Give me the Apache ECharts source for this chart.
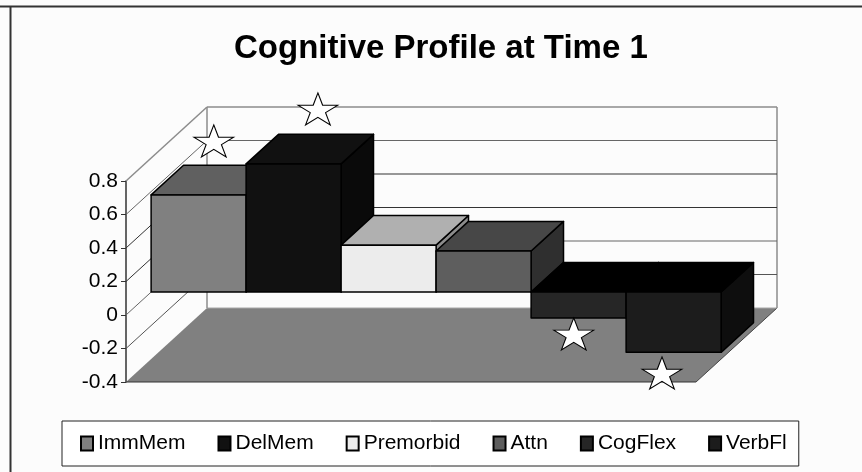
<!DOCTYPE html>
<html>
<head>
<meta charset="utf-8">
<style>
  html, body { margin: 0; padding: 0; background: #fcfcfc; }
  #chart { width: 862px; height: 472px; }
</style>
<script src="https://cdn.jsdelivr.net/npm/echarts@6/dist/echarts.min.js"></script>
</head>
<body>
<div id="chart"></div>
<script>
const seriesNames = ['ImmMem', 'DelMem', 'Premorbid', 'Attn', 'CogFlex', 'VerbFl'];
const seriesValues = [0.58, 0.765, 0.28, 0.245, -0.155, -0.36];
const yTicks = [0.8, 0.6, 0.4, 0.2, 0, -0.2];
const starX = [0.924, 2.02, 4.713, 5.642];
const starY = [1.039, 1.23, -0.113, -0.346];

const frontColors = ['#808080', '#111111', '#ececec', '#5e5e5e', '#262626', '#1c1c1c'];
const topColors = ['#606060', '#111111', '#b0b0b0', '#474747', '#000000', '#000000'];
const sideColors = ['#505050', '#0a0a0a', '#8c8c8c', '#2f2f2f', '#151515', '#0e0e0e'];
const gridColors = ['#8c8c8c', '#666666', '#333333', '#333333', '#666666', '#555555'];

// the oblique 3D box: how far the back of the floor sits from the front plane
const depthX = 81;
const depthY = -74;
const barFront = 0.31;
const barBack = 0.71;
const xMax = seriesNames.length;
const yMin = -0.4;
const yMax = 0.8;

const starPath = 'path://M50 0 L61.8 38.2 L100 38.2 L69.1 61.8 L80.9 100 L50 76.4 L19.1 100 L30.9 61.8 L0 38.2 L38.2 38.2 Z';

function shift(p, f) {
  return [p[0] + depthX * f, p[1] + depthY * f];
}

function lineShape(p, q) {
  return { x1: p[0], y1: p[1], x2: q[0], y2: q[1] };
}

function renderFloor(params, api) {
  const a = api.coord([0, yMin]);
  const b = api.coord([xMax, yMin]);
  const top = api.coord([xMax, yMax]);
  const leftTop = api.coord([0, yMax]);
  return {
    type: 'group',
    children: [
      {
        type: 'polygon',
        shape: { points: [a, b, shift(b, 1), shift(a, 1)] },
        style: { fill: '#808080', stroke: 'none' }
      },
      { type: 'line', shape: lineShape(a, b), style: { stroke: '#333333', lineWidth: 1 } },
      { type: 'line', shape: lineShape(b, shift(b, 1)), style: { stroke: '#444444', lineWidth: 1 } },
      { type: 'line', shape: lineShape(shift(a, 1), shift(b, 1)), style: { stroke: '#a8a8a8', lineWidth: 1 } },
      { type: 'line', shape: lineShape(shift(a, 1), shift(leftTop, 1)), style: { stroke: '#8c8c8c', lineWidth: 1.5 } },
      { type: 'line', shape: lineShape(shift(b, 1), shift(top, 1)), style: { stroke: '#8c8c8c', lineWidth: 1.5 } }
    ]
  };
}

function renderWallLine(params, api) {
  const v = api.value(1);
  const a = api.coord([0, v]);
  const b = api.coord([xMax, v]);
  const color = gridColors[params.dataIndex];
  const style = { stroke: color, lineWidth: v === yMax ? 1.5 : 1 };
  return {
    type: 'group',
    children: [
      { type: 'line', shape: lineShape(a, shift(a, 1)), style },
      { type: 'line', shape: lineShape(shift(a, 1), shift(b, 1)), style }
    ]
  };
}

function renderBar(params, api) {
  const i = api.value(0);
  const v = api.value(1);
  const s = params.seriesIndex - 2;
  const high = Math.max(v, 0);
  const low = Math.min(v, 0);
  const tl = shift(api.coord([i, high]), barFront);
  const tr = shift(api.coord([i + 1, high]), barFront);
  const br = shift(api.coord([i + 1, low]), barFront);
  const bl = shift(api.coord([i, low]), barFront);
  const d = barBack - barFront;
  const edge = { stroke: '#000000', lineWidth: 1.5, lineJoin: 'round' };
  return {
    type: 'group',
    children: [
      {
        type: 'polygon',
        shape: { points: [tr, br, shift(br, d), shift(tr, d)] },
        style: Object.assign({ fill: sideColors[s] }, edge)
      },
      {
        type: 'polygon',
        shape: { points: [tl, tr, shift(tr, d), shift(tl, d)] },
        style: Object.assign({ fill: topColors[s] }, edge)
      },
      {
        type: 'polygon',
        shape: { points: [tl, tr, br, bl] },
        style: Object.assign({ fill: frontColors[s] }, edge)
      }
    ]
  };
}

const barSeries = seriesNames.map((name, i) => ({
  name,
  type: 'custom',
  renderItem: renderBar,
  itemStyle: { color: frontColors[i], borderColor: '#000000', borderWidth: 1.5 },
  data: [[i, seriesValues[i]]],
  z: 3
}));

const chart = echarts.init(document.getElementById('chart'));
chart.setOption({
  animation: false,
  backgroundColor: '#fcfcfc',
  title: {
    text: 'Cognitive Profile at Time 1',
    left: 234,
    top: 32,
    padding: 0,
    textStyle: { fontFamily: 'Liberation Sans', fontWeight: 'bold', fontSize: 33, color: '#000000' }
  },
  legend: {
    data: seriesNames,
    left: 62,
    top: 421,
    padding: [12, 12, 12, 18],
    itemGap: 32,
    itemWidth: 12,
    itemHeight: 14,
    icon: 'rect',
    backgroundColor: '#ffffff',
    borderColor: '#222222',
    borderWidth: 1,
    textStyle: { fontFamily: 'Liberation Sans', fontSize: 21, color: '#000000' }
  },
  grid: { left: 126, right: 166, top: 181, bottom: 90 },
  xAxis: { type: 'value', min: 0, max: xMax, show: false },
  yAxis: {
    type: 'value',
    min: yMin,
    max: yMax,
    interval: 0.2,
    axisLine: { show: true, lineStyle: { color: '#333333', width: 1.5 } },
    axisTick: { show: true, length: 5, lineStyle: { color: '#333333' } },
    axisLabel: { margin: 8, fontFamily: 'Liberation Sans', fontSize: 21, color: '#000000' },
    splitLine: { show: false }
  },
  graphic: [
    { type: 'line', shape: { x1: 0, y1: 6.5, x2: 862, y2: 6.5 }, style: { stroke: '#333333', lineWidth: 2 } },
    { type: 'line', shape: { x1: 10.5, y1: 6, x2: 10.5, y2: 472 }, style: { stroke: '#333333', lineWidth: 2 } }
  ],
  series: [
    { type: 'custom', name: 'floor', renderItem: renderFloor, data: [[0, yMin]], z: 1 },
    { type: 'custom', name: 'wall', renderItem: renderWallLine, data: yTicks.map((t) => [0, t]), z: 2 }
  ].concat(barSeries, [
    {
      type: 'scatter',
      name: 'stars',
      clip: false,
      symbol: starPath,
      symbolSize: [40, 32],
      itemStyle: { color: '#ffffff', borderColor: '#000000', borderWidth: 1, opacity: 1 },
      data: starX.map((x, i) => [x, starY[i]]),
      z: 6
    }
  ])
});
window.addEventListener('resize', () => chart.resize());
</script>
</body>
</html>
